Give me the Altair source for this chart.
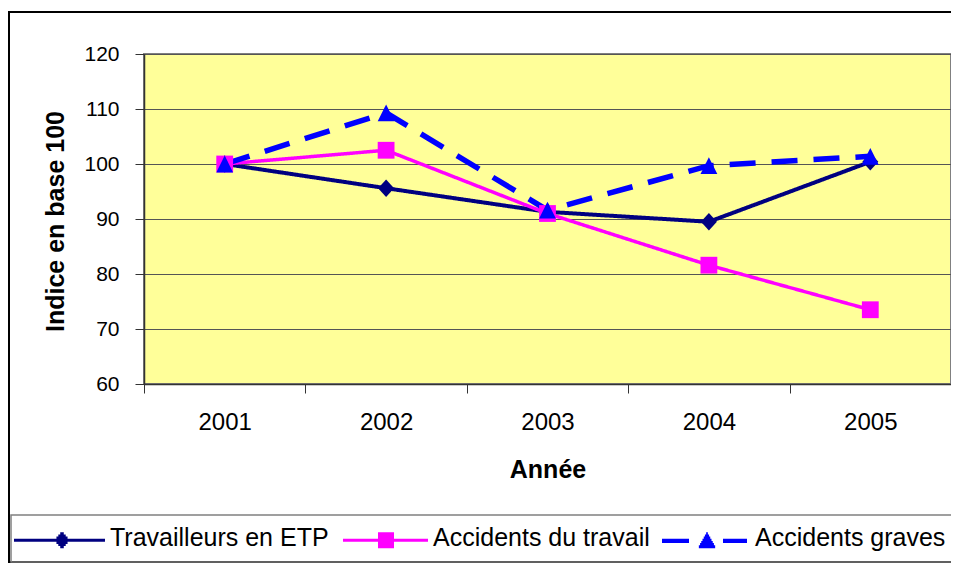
import altair as alt
import pandas as pd

# ---- data ----
years = ["2001", "2002", "2003", "2004", "2005"]
series = ["Travailleurs en ETP", "Accidents du travail", "Accidents graves"]
travailleurs = [100.0, 95.6, 91.3, 89.5, 100.4]
accidents = [100.0, 102.5, 91.0, 81.6, 73.5]
graves = [100.0, 109.3, 91.6, 99.7, 101.4]
y_ticks = [60, 70, 80, 90, 100, 110, 120]

# ---- styles ----
colors = ["#000080", "#FF00FF", "#0000FF"]
line_dash = [[1, 0], [1, 0], [26, 16]]
line_width = [4, 3.5, 5.5]
marker_paths = [
    "M0,-1.1L1,0L0,1.1L-1,0Z",
    "M-1.05,-1.05L1.05,-1.05L1.05,1.05L-1.05,1.05Z",
    "M0,-1.05L1.05,1.05L-1.05,1.05Z",
]
FONT = "Liberation Sans"

# legend symbols: line + marker built only from stroked horizontal segments
R = 20.5  # symbol unit in px (sqrt(symbolSize)/2)


def seg(x0, x1, dy):
    return "M%.3f,%.3fL%.3f,%.3f" % (x0 / R, dy / R, x1 / R, dy / R)


def legend_path(line_parts, marker_cx, kind, yc=2.0):
    p = "".join(seg(a, b, yc) for a, b in line_parts)
    offs = [-6.5, -4.3, -2.2, 0.0, 2.2, 4.3, 6.5]
    for o in offs:
        if kind == "diamond":
            hw = 7.5 * (1 - abs(o) / 8.5)
        elif kind == "square":
            hw = 8.0
        else:  # triangle up
            hw = 9.0 * (o + 8.0) / 16.0
        p += seg(marker_cx - hw, marker_cx + hw, yc + o)
    return p


legend_paths = [
    legend_path([(-20.0, 71.0)], 28.0, "diamond"),
    legend_path([(-14.0, 71.0)], 29.0, "square"),
    legend_path([(-17.0, 10.0), (44.0, 68.0)], 28.0, "triangle")
    + seg(-17.0, 10.0, 3.2) + seg(44.0, 68.0, 3.2),
]

rows = []
for name, vals in zip(series, [travailleurs, accidents, graves]):
    for yr, v in zip(years, vals):
        rows.append({"year": yr, "series": name, "value": v})
df = pd.DataFrame(rows)

x_enc = alt.X(
    "year:O",
    scale=alt.Scale(type="band", paddingInner=0, paddingOuter=0, domain=years),
    axis=alt.Axis(
        title="Année", labelAngle=0, labelFontSize=24, labelPadding=17,
        labelColor="black", labelFont=FONT,
        tickSize=9, tickBand="extent", tickColor="#333333", tickWidth=1,
        domainColor="#333333", domainWidth=1.5, grid=False,
        titleFontSize=25, titleFontWeight="bold", titleFont=FONT,
        titleColor="black", titleY=93, titleBaseline="alphabetic",
    ),
)
y_enc = alt.Y(
    "value:Q",
    scale=alt.Scale(domain=[60, 120], nice=False, zero=False),
    axis=alt.Axis(
        title="Indice en base 100", values=y_ticks, labelFontSize=21,
        labelPadding=16, labelColor="black", labelFont=FONT,
        tickSize=9, tickColor="#333333", tickWidth=1,
        domainColor="#333333", domainWidth=1.5,
        grid=True, gridColor="#555555", gridWidth=1,
        titleFontSize=25, titleFontWeight="bold", titleFont=FONT,
        titleColor="black", titleX=-81, titleY=167,
        titleBaseline="alphabetic",
    ),
)

frame = alt.Chart(alt.Data(values=[{"k": 0}])).mark_rect(
    fill="transparent", stroke="#000000", strokeWidth=2
).encode(x=alt.value(-135), x2=alt.value(850), y=alt.value(-42), y2=alt.value(508))

legend_box = alt.Chart(alt.Data(values=[{"k": 0}])).mark_rect(
    fill="transparent", stroke="#808080", strokeWidth=1.5
).encode(x=alt.value(-133), x2=alt.value(850), y=alt.value(461), y2=alt.value(508))

layers = [frame, legend_box]
for i, name in enumerate(series):
    layers.append(
        alt.Chart(df).transform_filter(alt.datum.series == name).mark_line(
            color=colors[i], strokeWidth=line_width[i], strokeDash=line_dash[i]
        ).encode(x=x_enc, y=y_enc)
    )
for i, name in enumerate(series):
    layers.append(
        alt.Chart(df).transform_filter(alt.datum.series == name).mark_point(
            shape=marker_paths[i], filled=True, opacity=1, size=256, color=colors[i]
        ).encode(x=x_enc, y=y_enc)
    )

leg = alt.Legend(
    orient="none", legendX=-134, legendY=460, direction="horizontal",
    symbolSize=4 * R * R, symbolStrokeWidth=3, labelFontSize=25, labelFont=FONT,
    labelColor="black", labelOffset=54, columnPadding=6, labelLimit=600,
    padding=2,
)

legend_layer = alt.Chart(df).transform_filter("false").mark_point(
    filled=False, opacity=1, strokeWidth=3, strokeCap="butt"
).encode(
    x=x_enc,
    y=y_enc,
    color=alt.Color("series:N", title=None, scale=alt.Scale(domain=series, range=colors), legend=leg),
    shape=alt.Shape("series:N", title=None, scale=alt.Scale(domain=series, range=legend_paths), legend=leg),
)
layers.append(legend_layer)

chart = alt.layer(*layers).properties(
    width=807,
    height=330,
    autosize=alt.AutoSizeParams(type="none"),
    padding={"left": 136, "top": 46, "right": 0, "bottom": 180},
    background="white",
).configure(font=FONT).configure_view(
    fill="#FFFF99", stroke="#808080", strokeWidth=2
)

chart.save("out.html", embed_options={"renderer": "svg", "actions": False})
